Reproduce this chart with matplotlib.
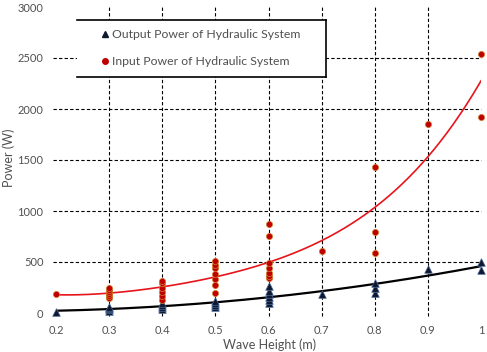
import numpy as np
import matplotlib
matplotlib.use("Agg")
import matplotlib.pyplot as plt
from matplotlib.lines import Line2D

plt.rcParams['font.family'] = ['Lato', 'DejaVu Sans']

# Output power (triangles)
out_x = [0.2, 0.3, 0.3, 0.3, 0.3, 0.4, 0.4, 0.4, 0.4, 0.5, 0.5, 0.5, 0.5,
         0.6, 0.6, 0.6, 0.6, 0.6, 0.6, 0.7, 0.8, 0.8, 0.8, 0.9, 1.0, 1.0]
out_y = [10, 20, 35, 50, 60, 40, 60, 80, 95, 60, 80, 100, 120,
         100, 130, 160, 190, 220, 260, 186, 199, 242, 291, 428, 503, 421]

# Input power (red dots)
in_x = [0.2, 0.3, 0.3, 0.3, 0.3, 0.3, 0.3,
        0.4, 0.4, 0.4, 0.4, 0.4, 0.4,
        0.5, 0.5, 0.5, 0.5, 0.5, 0.5, 0.5,
        0.6, 0.6, 0.6, 0.6, 0.6, 0.6, 0.6,
        0.7, 0.8, 0.8, 0.8, 0.9, 1.0, 1.0]
in_y = [190, 150, 170, 190, 210, 230, 250,
        130, 170, 210, 250, 290, 310,
        193, 274, 330, 382, 438, 470, 512,
        340, 363, 395, 438, 487, 755, 872,
        611, 585, 797, 1431, 1852, 2538, 1921]

xticks = [0.2, 0.3, 0.4, 0.5, 0.6, 0.7, 0.8, 0.9, 1.0]
xticklabels = ["0.2", "0.3", "0.4", "0.5", "0.6", "0.7", "0.8", "0.9", "1"]
yticks = [0, 500, 1000, 1500, 2000, 2500, 3000]
labels = ["Output Power of Hydraulic System", "Input Power of Hydraulic System"]

W, H = 487, 352
fig = plt.figure(figsize=(W/100, H/100), dpi=100)
ax = fig.add_axes([56/W, 39/H, (481-56)/W, (313-7)/H])
ax.set_xlim(0.2, 1.0)
ax.set_ylim(0, 3000)

for s in ax.spines.values():
    s.set_visible(False)

for y in yticks[1:-1]:
    ax.plot([0.194, 1.0], [y, y], color="black", lw=0.8,
            ls=(0, (3, 2)), zorder=0, clip_on=False)
for x in xticks[1:-1]:
    ax.axvline(x, ymin=-0.01, ymax=1, color="black", lw=0.8, ls=(0, (3, 2)),
               zorder=0, clip_on=False)

# polynomial trendlines fitted to the data
xs = np.linspace(0.2, 1.0, 200)
cin = np.polyfit(in_x, in_y, 4)
cout = np.polyfit(out_x, out_y, 2)
ax.plot(xs, np.polyval(cin, xs), color="#e8141c", lw=1.2, zorder=2)
ax.plot(xs, np.polyval(cout, xs), color="black", lw=1.6, zorder=2)

ax.scatter(out_x, out_y, marker="^", s=30, color="#101830", edgecolors="#4a6a9a",
           linewidths=0.5, zorder=3, clip_on=False)
ax.scatter(in_x, in_y, marker="o", s=20, color="#c00000", edgecolors="#d08030",
           linewidths=0.5, zorder=3, clip_on=False)

txtc = "#505050"
ax.set_xticks(xticks)
ax.set_xticklabels(xticklabels)
ax.set_yticks(yticks)
ax.tick_params(length=0, labelsize=8, colors=txtc, pad=9)
fig.text(270/W, 1 - 345/H, "Wave Height (m)", fontsize=9, color=txtc,
         ha="center", va="center")
fig.text(9/W, 1 - 158/H, "Power (W)", fontsize=9, color=txtc, rotation=90,
         ha="center", va="center")

# legend box: top, bottom and right edges, white fill
bx0, bx1, by0, by1 = 77/W, 326/W, 1 - 77/H, 1 - 20/H
fig.patches.append(plt.Rectangle((bx0, by0), bx1 - bx0, by1 - by0, transform=fig.transFigure,
                                 facecolor="white", edgecolor="none", zorder=4))
for line in ([bx0, bx1], [by1, by1]), ([bx0, bx1], [by0, by0]), ([bx1, bx1], [by0, by1]):
    fig.add_artist(Line2D(line[0], line[1], color="black", lw=1.2, transform=fig.transFigure,
                          zorder=5))
handles = [Line2D([], [], ls="none", marker="^", ms=5, color="#101830"),
           Line2D([], [], ls="none", marker="o", ms=4, color="#c00000")]
leg = fig.legend(handles, labels, loc="upper left", bbox_to_anchor=(100/W, 1 - 29/H),
                 fontsize=8.8, frameon=False, handletextpad=0.15, handlelength=0.8,
                 borderpad=0, labelspacing=1.3, borderaxespad=0)
leg.set_zorder(6)
for t in leg.get_texts():
    t.set_color(txtc)

fig.savefig("out.png", dpi=100)
